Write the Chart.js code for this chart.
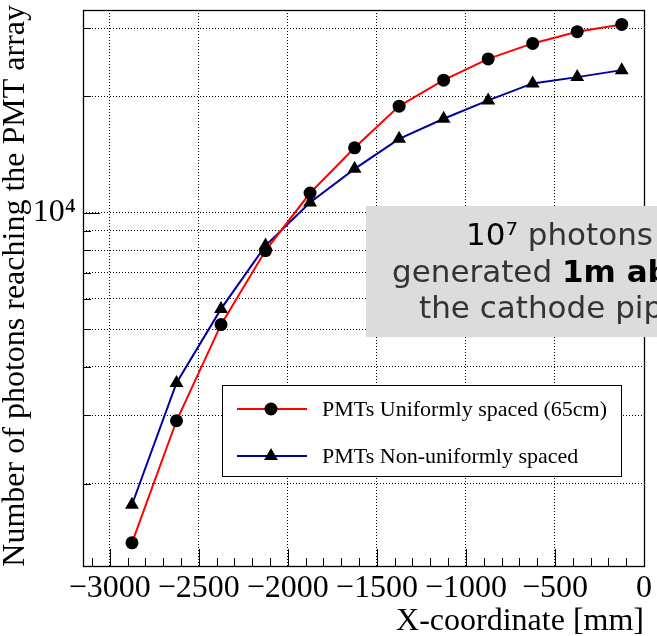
<!DOCTYPE html>
<html>
<head>
<meta charset="utf-8">
<script src="https://cdn.jsdelivr.net/npm/chart.js@4/dist/chart.umd.min.js"></script>
<style>
    body { margin: 0; background: #ffffff; }
    canvas { display: block; }
</style>
</head>
<body>
<canvas id="graficoFotons" width="657" height="636"></canvas>
<script>
// dados
const posicoesX = [-2875, -2625, -2375, -2125, -1875, -1625, -1375, -1125, -875, -625, -375, -125];
const fotonsUniforme = [1406, 2905, 5145, 7990, 11250, 14720, 18860, 22010, 24970, 27380, 29360, 30660];
const fotonsNaoUniforme = [1763, 3637, 5649, 8230, 10630, 12990, 15530, 17500, 19510, 21590, 22410, 23360];
const ticksX = [-3000, -2500, -2000, -1500, -1000, -500, 0];
const ticksY = [2000, 3000, 4000, 5000, 6000, 7000, 8000, 9000, 10000, 20000, 30000];
const rotuloUniforme = 'PMTs Uniformly spaced (65cm)';
const rotuloNaoUniforme = 'PMTs Non-uniformly spaced';

const fonteSerif = '"Liberation Serif", "Times New Roman", serif';
const fonteSans = '"DejaVu Sans", sans-serif';

function pontos(valores) {
    return posicoesX.map(function (x, i) { return { x: x, y: valores[i] }; });
}

// moldura, ticks internos, legenda, caixa de texto e titulos
const extras = {
    id: 'extras',
    afterDraw(chart) {
        const ctx = chart.ctx;
        const area = chart.chartArea;
        const sx = chart.scales.x;
        const sy = chart.scales.y;
        ctx.save();

        // ticks do eixo x (para dentro)
        ctx.strokeStyle = '#000';
        ctx.lineWidth = 1;
        ctx.beginPath();
        for (let v = -3100; v <= 0; v += 100) {
            const px = Math.round(sx.getPixelForValue(v)) + 0.5;
            const len = (v % 500 === 0) ? 17 : 8;
            ctx.moveTo(px, area.bottom);
            ctx.lineTo(px, area.bottom - len);
        }
        // ticks do eixo y
        ticksY.forEach(function (v) {
            const py = Math.round(sy.getPixelForValue(v)) + 0.5;
            const len = (v === 10000) ? 17 : 8;
            ctx.moveTo(area.left, py);
            ctx.lineTo(area.left + len, py);
        });
        ctx.stroke();

        // moldura
        ctx.lineWidth = 1.3;
        ctx.strokeRect(Math.round(area.left) + 0.5, Math.round(area.top) + 0.5,
            Math.round(area.right - area.left), Math.round(area.bottom - area.top));

        // legenda
        ctx.fillStyle = '#fff';
        ctx.fillRect(222, 385, 400, 92);
        ctx.lineWidth = 1;
        ctx.strokeRect(222.5, 385.5, 399, 91);
        const ds = chart.data.datasets;
        const linhas = [409, 456];
        ds.forEach(function (d, i) {
            const y = linhas[i];
            ctx.strokeStyle = d.borderColor;
            ctx.lineWidth = 2;
            ctx.beginPath();
            ctx.moveTo(237, y);
            ctx.lineTo(307, y);
            ctx.stroke();
            ctx.fillStyle = '#000';
            if (d.pointStyle === 'triangle') {
                const r = d.pointRadius;
                ctx.beginPath();
                ctx.moveTo(271, y - r);
                ctx.lineTo(271 + r * Math.sin(Math.PI * 2 / 3), y - r * Math.cos(Math.PI * 2 / 3));
                ctx.lineTo(271 - r * Math.sin(Math.PI * 2 / 3), y - r * Math.cos(Math.PI * 2 / 3));
                ctx.closePath();
                ctx.fill();
            } else {
                ctx.beginPath();
                ctx.arc(271, y, d.pointRadius, 0, Math.PI * 2);
                ctx.fill();
            }
            ctx.font = '22px ' + fonteSerif;
            ctx.textAlign = 'left';
            ctx.textBaseline = 'middle';
            ctx.fillText(d.label, 322, y + 1);
        });

        // caixa cinza com texto
        ctx.fillStyle = '#dcdcdc';
        ctx.fillRect(366, 206, 400, 131);
        ctx.textBaseline = 'alphabetic';
        const partes = [
            [['10\u2077', '#000', 'normal'], [' photons', '#333', 'normal']],
            [['generated ', '#333', 'normal'], ['1m above', '#000', 'bold']],
            [['the cathode pipe', '#333', 'normal']]
        ];
        const inicios = [466, 392, 419];
        const bases = [245, 282, 318];
        partes.forEach(function (linha, i) {
            let x = inicios[i];
            linha.forEach(function (p) {
                ctx.font = p[2] + ' 31px ' + fonteSans;
                ctx.fillStyle = p[1];
                ctx.textAlign = 'left';
                ctx.fillText(p[0], x, bases[i]);
                x += ctx.measureText(p[0]).width;
            });
        });

        // titulos dos eixos
        ctx.fillStyle = '#000';
        ctx.font = '32px ' + fonteSerif;
        ctx.textAlign = 'right';
        ctx.textBaseline = 'alphabetic';
        ctx.fillText('X-coordinate [mm]', area.right, 630);

        ctx.translate(24, 5);
        ctx.rotate(-Math.PI / 2);
        ctx.fillText('Number of photons reaching the PMT array', 0, 0);
        ctx.restore();
    }
};

function plotarGrafico() {
    const dados = {
        datasets: [{
            label: rotuloUniforme,
            data: pontos(fotonsUniforme),
            borderColor: '#ff0000',
            backgroundColor: '#000',
            borderWidth: 2,
            pointStyle: 'circle',
            pointRadius: 6.5,
            pointBorderWidth: 0,
            pointBackgroundColor: '#000',
            tension: 0
        }, {
            label: rotuloNaoUniforme,
            data: pontos(fotonsNaoUniforme),
            borderColor: '#0000a0',
            backgroundColor: '#000',
            borderWidth: 2,
            pointStyle: 'triangle',
            pointRadius: 8,
            pointBorderWidth: 0,
            pointBackgroundColor: '#000',
            tension: 0
        }]
    };

    const config = {
        type: 'line',
        data: dados,
        options: {
            responsive: false,
            animation: false,
            devicePixelRatio: 1,
            layout: { padding: { top: 10, right: 13, left: 0, bottom: 0 } },
            plugins: {
                legend: { display: false },
                tooltip: { enabled: false }
            },
            scales: {
                x: {
                    type: 'linear',
                    min: -3150,
                    max: 0,
                    afterBuildTicks: function (scale) {
                        scale.ticks = ticksX.map(function (v) { return { value: v }; });
                    },
                    afterFit: function (scale) {
                        scale.height = 70;
                        scale.paddingLeft = 0;
                        scale.paddingRight = 0;
                    },
                    grid: { color: '#000', lineWidth: 1, drawTicks: false },
                    border: { display: false, dash: [1, 2] },
                    ticks: {
                        color: '#000',
                        padding: 3,
                        maxRotation: 0,
                        font: { family: fonteSerif, size: 32 },
                        callback: function (v) { return v < 0 ? '\u2212' + Math.abs(v) : String(v); }
                    }
                },
                y: {
                    type: 'logarithmic',
                    min: 1225,
                    max: 33400,
                    afterBuildTicks: function (scale) {
                        scale.ticks = ticksY.map(function (v) { return { value: v }; });
                    },
                    afterFit: function (scale) {
                        scale.width = 83;
                        scale.paddingTop = 0;
                        scale.paddingBottom = 0;
                    },
                    grid: { color: '#000', lineWidth: 1, drawTicks: false },
                    border: { display: false, dash: [1, 2] },
                    ticks: {
                        color: '#000',
                        padding: 7,
                        font: { family: fonteSerif, size: 32 },
                        callback: function (v) { return v === 10000 ? '10\u2074' : ''; }
                    }
                }
            }
        },
        plugins: [extras]
    };

    const ctx = document.getElementById('graficoFotons').getContext('2d');
    if (window.meuGrafico) {
        window.meuGrafico.destroy();
    }
    window.meuGrafico = new Chart(ctx, config);
    console.log('grafico pronto', window.meuGrafico.chartArea);
}

plotarGrafico();
</script>
</body>
</html>
